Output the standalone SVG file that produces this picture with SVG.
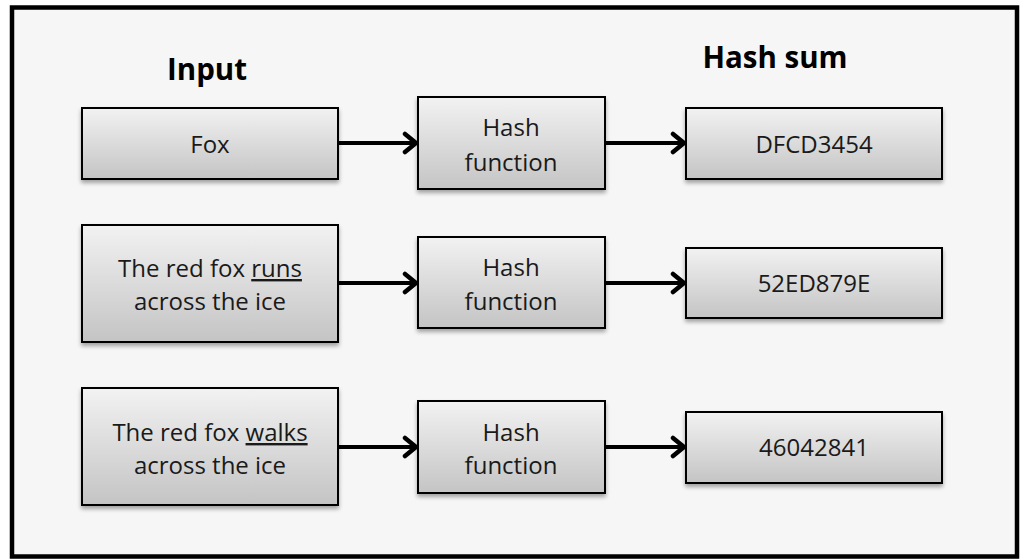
<svg xmlns="http://www.w3.org/2000/svg" width="1021" height="560" viewBox="0 0 1021 560">
<defs>
<linearGradient id="g" x1="0" y1="0" x2="0" y2="1">
<stop offset="0" stop-color="#f2f2f2"/>
<stop offset="1" stop-color="#c4c4c4"/>
</linearGradient>
<filter id="sh" x="-10%" y="-10%" width="130%" height="140%">
<feGaussianBlur in="SourceAlpha" stdDeviation="2"/>
<feOffset dx="0" dy="3" result="b"/>
<feComponentTransfer><feFuncA type="linear" slope="0.35"/></feComponentTransfer>
<feMerge><feMergeNode/><feMergeNode in="SourceGraphic"/></feMerge>
</filter>
<marker id="ah" markerUnits="userSpaceOnUse" markerWidth="24" markerHeight="24" refX="18" refY="12" orient="auto" viewBox="0 0 24 24">
<polyline points="5,3 16,12 5,21" fill="none" stroke="#000" stroke-width="4.5" stroke-linecap="round" stroke-linejoin="round"/>
</marker>
</defs>
<style>
.box{fill:url(#g);stroke:#000;stroke-width:2;filter:url(#sh)}
.t{font-family:"Open Sans","Noto Sans",sans-serif;font-size:24px;fill:#1a1a1a;text-anchor:middle}
.h{font-family:"Open Sans","Noto Sans",sans-serif;font-size:29.5px;font-weight:bold;fill:#000;text-anchor:middle}
.c{stroke:#000;stroke-width:4;fill:none;marker-end:url(#ah)}
.u{text-decoration:underline}
</style>
<rect x="0" y="0" width="1021" height="560" fill="#fff"/>
<rect x="12" y="7.5" width="1005" height="549" fill="#f6f6f6" stroke="#000" stroke-width="4.5"/>
<g id="title-input"><text class="h" x="207" y="80">Input</text></g>
<g id="title-hash"><text class="h" x="775" y="68">Hash sum</text></g>
<g id="connectors">
<line class="c" x1="339" y1="143" x2="418" y2="143"/>
<line class="c" x1="606" y1="143" x2="686" y2="143"/>
<line class="c" x1="339" y1="283" x2="418" y2="283"/>
<line class="c" x1="606" y1="283" x2="686" y2="283"/>
<line class="c" x1="339" y1="447" x2="418" y2="447"/>
<line class="c" x1="606" y1="447" x2="686" y2="447"/>
</g>
<g id="in1"><rect class="box" x="82" y="108" width="256" height="71"/><text class="t" x="210" y="153">Fox</text></g>
<g id="hf1"><rect class="box" x="418" y="97" width="187" height="92"/><text class="t" x="511" y="136">Hash</text><text class="t" x="511" y="171">function</text></g>
<g id="out1"><rect class="box" x="686" y="108" width="256" height="71"/><text class="t" x="814" y="153">DFCD3454</text></g>
<g id="in2"><rect class="box" x="82" y="225" width="256" height="117"/><text class="t" x="210" y="277">The red fox <tspan class="u">runs</tspan></text><text class="t" x="210" y="310">across the ice</text></g>
<g id="hf2"><rect class="box" x="418" y="237" width="187" height="91"/><text class="t" x="511" y="276">Hash</text><text class="t" x="511" y="310">function</text></g>
<g id="out2"><rect class="box" x="686" y="248" width="256" height="70"/><text class="t" x="814" y="292">52ED879E</text></g>
<g id="in3"><rect class="box" x="82" y="388" width="256" height="117"/><text class="t" x="210" y="441">The red fox <tspan class="u">walks</tspan></text><text class="t" x="210" y="474">across the ice</text></g>
<g id="hf3"><rect class="box" x="418" y="401" width="187" height="92"/><text class="t" x="511" y="441">Hash</text><text class="t" x="511" y="474">function</text></g>
<g id="out3"><rect class="box" x="686" y="412" width="256" height="71"/><text class="t" x="814" y="456">46042841</text></g>
</svg>
